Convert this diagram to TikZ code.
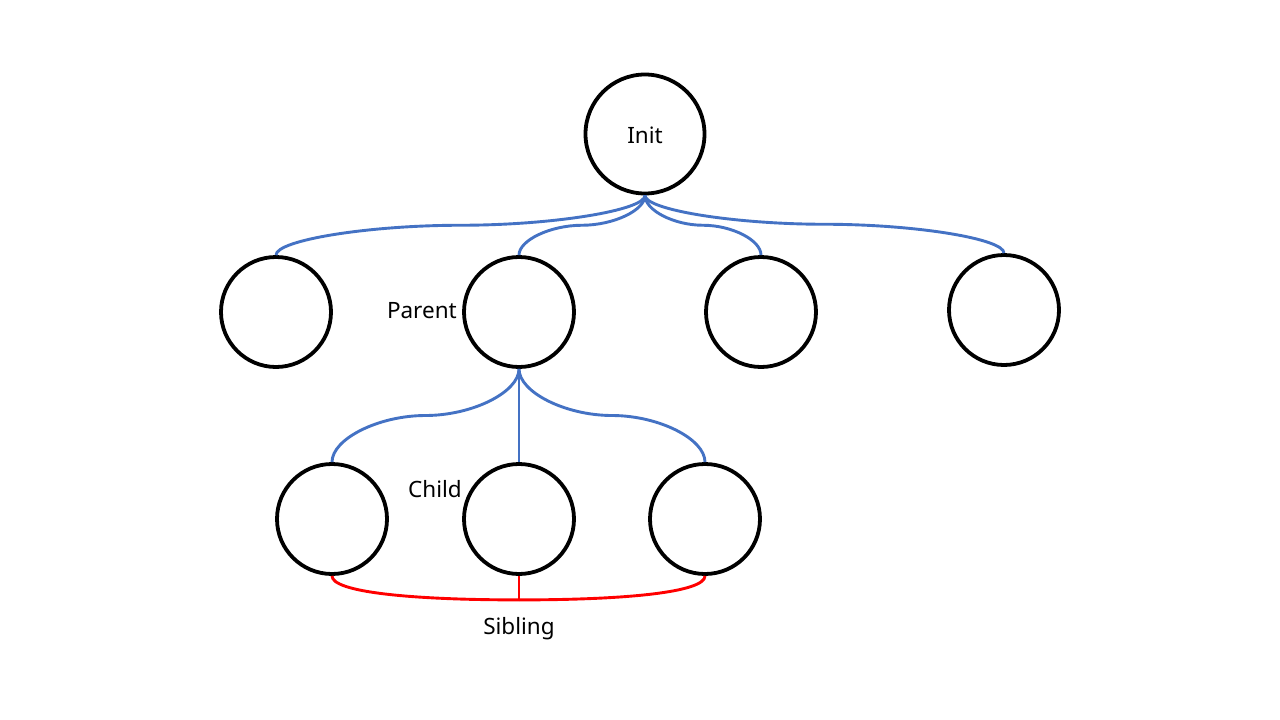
\documentclass[tikz,border=0pt]{standalone}
\usepackage{fontspec}
\setmainfont{Noto Sans}
\usetikzlibrary{calc}
\definecolor{linkblue}{HTML}{4472C4}
\definecolor{sibred}{HTML}{FF0000}
\tikzset{
  vert/.style={circle, draw=black, line width=3.8pt, inner sep=0pt},
  bigvert/.style={vert, minimum size=119pt},
  smallvert/.style={vert, minimum size=110pt},
  lbl/.style={font=\fontsize{22.5}{26}\selectfont, inner sep=0pt},
  link/.style={draw=linkblue, line width=2.9pt},
  sib/.style={draw=sibred, line width=2.9pt},
  curv/.style={to path={let \p1=(\tikztostart), \p2=(\tikztotarget) in
    .. controls (\x1, {(3*\y1+\y2)/4}) and ({(3*\x1+\x2)/4}, {(\y1+\y2)/2})
    .. ({(\x1+\x2)/2}, {(\y1+\y2)/2})
    .. controls ({(\x1+3*\x2)/4}, {(\y1+\y2)/2}) and (\x2, {(\y1+3*\y2)/4})
    .. (\tikztotarget)}}
}
\begin{document}
\begin{tikzpicture}[x=1pt, y=-1pt]
\useasboundingbox[fill=white] (0,0) rectangle (1280,720);
\node[bigvert] (init) at (645,134) {};
\node[lbl] (initlbl) at (645,135) {Init};
\node[smallvert] (p1) at (276,312) {};
\node[smallvert] (p2) at (519,312) {};
\node[smallvert] (p3) at (761,312) {};
\node[smallvert] (p4) at (1004,310) {};
\node[smallvert] (c1) at (332,519) {};
\node[smallvert] (c2) at (519,519) {};
\node[smallvert] (c3) at (705,519) {};
\node[lbl, anchor=east] (parentlbl) at (457,311) {Parent};
\node[lbl] (childlbl) at (435,489) {Child};
\node[lbl] (siblbl) at (519,629) {Sibling};
\draw[link] (init.south) to[curv] (p1.north);
\draw[link] (init.south) to[curv] (p2.north);
\draw[link] (init.south) to[curv] (p3.north);
\draw[link] (init.south) to[curv] (p4.north);
\draw[link] (p2.south) to[curv] (c1.north);
\draw[link] (p2.south) -- (c2.north);
\draw[link] (p2.south) to[curv] (c3.north);
\coordinate (sibmid) at ($(c2.south)+(0,24)$);
\draw[sib] (c1.south) .. controls ($(c1.south)+(0,16)$) and ($(sibmid)+(-110,0)$) .. (sibmid);
\draw[sib] (c3.south) .. controls ($(c3.south)+(0,16)$) and ($(sibmid)+(110,0)$) .. (sibmid);
\draw[sib] (c2.south) -- (sibmid);
\end{tikzpicture}
\end{document}
